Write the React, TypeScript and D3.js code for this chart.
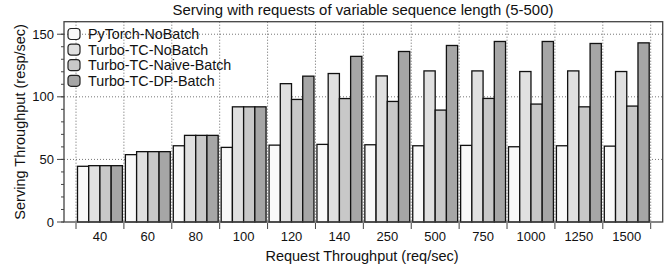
import React from "react";
import * as d3 from "d3";

// request throughput categories (req/sec)
const categories = ["40", "60", "80", "100", "120", "140", "250", "500", "750", "1000", "1250", "1500"];

const seriesNames = ["PyTorch-NoBatch", "Turbo-TC-NoBatch", "Turbo-TC-Naive-Batch", "Turbo-TC-DP-Batch"];
const seriesColors = ["#f9f9f9", "#e0e0e0", "#c8c8c8", "#a6a6a6"];

// serving throughput (resp/sec)
const pytorchNoBatch = [44.5, 53.8, 60.9, 59.6, 61.4, 62, 61.7, 60.9, 61.2, 60.1, 60.9, 60.6];
const turboNoBatch = [45, 56.2, 69.2, 92, 110.5, 118.6, 116.7, 120.7, 120.7, 120.2, 120.7, 120.2];
const turboNaiveBatch = [45, 56.2, 69.2, 92, 97.9, 98.6, 96.3, 89.4, 98.7, 94.2, 92, 92.6];
const turboDPBatch = [45, 56.2, 69.2, 92, 116.5, 132.3, 136.2, 141, 144.2, 144.2, 142.6, 143.1];

const seriesValues = [pytorchNoBatch, turboNoBatch, turboNaiveBatch, turboDPBatch];

const yMajor = [0, 50, 100, 150];
const yMinor = d3.range(0, 160, 10);

const W = 666;
const H = 267;
const font = "'Liberation Sans', Arial, Helvetica, sans-serif";

export default function App() {
  const left = 64, right = 662.7, top = 21.7, bottom = 222;

  const y = d3.scaleLinear().domain([0, 160]).range([bottom, top]);
  const x = d3.scaleBand().domain(categories).range([76, 650.7]).paddingInner(0).paddingOuter(0);
  const bw = x.bandwidth();
  const xs = d3.scaleBand().domain(seriesNames).range([1.5, bw - 1.5]);

  const ticks = categories.map((c) => x(c) as number).concat([(x(categories[categories.length - 1]) as number) + bw]);

  return (
    <svg width={W} height={H} style={{ position: "absolute", left: 0, top: 0 }} fontFamily={font}>
      <rect x={0} y={0} width={W} height={H} fill="#fff" />
      {/* grid */}
      {yMajor.filter((v) => v > 0).map((v) => (
        <line key={"gy" + v} x1={left} x2={right} y1={y(v)} y2={y(v)} stroke="#777" strokeWidth={1} strokeDasharray="1,2" />
      ))}
      {ticks.map((t, i) => (
        <line key={"gx" + i} x1={t} x2={t} y1={top} y2={bottom} stroke="#666" strokeWidth={1} strokeDasharray="1,2" />
      ))}
      {/* bars */}
      {categories.map((c, ci) => (
        <g key={c} transform={`translate(${x(c)},0)`}>
          {seriesNames.map((s, si) => {
            const v = seriesValues[si][ci];
            return (
              <rect
                key={s}
                x={xs(s)}
                y={y(v)}
                width={xs.bandwidth()}
                height={bottom - y(v)}
                fill={seriesColors[si]}
                stroke="#111"
                strokeWidth={1.3}
              />
            );
          })}
        </g>
      ))}
      {/* frame */}
      <rect x={left} y={top} width={right - left} height={bottom - top} fill="none" stroke="#444" strokeWidth={1.3} />
      {/* y ticks */}
      {yMinor.map((v) => (
        <line key={"ym" + v} x1={left - 3} x2={left} y1={y(v)} y2={y(v)} stroke="#444" strokeWidth={1} />
      ))}
      {yMajor.map((v) => (
        <g key={"yt" + v}>
          <line x1={left - 7} x2={left} y1={y(v)} y2={y(v)} stroke="#444" strokeWidth={1} />
          <text x={left - 10} y={y(v) + 4.5} textAnchor="end" fontSize={13} fill="#111">{v}</text>
        </g>
      ))}
      {/* x ticks */}
      {ticks.map((t, i) => (
        <line key={"xt" + i} x1={t} x2={t} y1={bottom + 1} y2={bottom + 7} stroke="#444" strokeWidth={1} />
      ))}
      {categories.map((c) => (
        <text key={"xl" + c} x={(x(c) as number) + bw / 2} y={241} textAnchor="middle" fontSize={13} fill="#111">{c}</text>
      ))}
      {/* labels */}
      <text x={363} y={15} textAnchor="middle" fontSize={14.9} fill="#111">Serving with requests of variable sequence length (5-500)</text>
      <text x={362} y={261} textAnchor="middle" fontSize={14.5} fill="#111">Request Throughput (req/sec)</text>
      <text transform={`translate(25,${(top + bottom) / 2}) rotate(-90)`} textAnchor="middle" fontSize={14.5} fill="#111">Serving Throughput (resp/sec)</text>
      {/* legend */}
      {seriesNames.map((s, i) => (
        <g key={"lg" + s} transform={`translate(68,${34 + i * 15.6})`}>
          <rect x={0} y={-5.5} width={12} height={11} rx={3} fill={seriesColors[i]} stroke="#222" strokeWidth={1.2} />
          <text x={20} y={5} fontSize={14.3} fill="#111">{s}</text>
        </g>
      ))}
    </svg>
  );
}
